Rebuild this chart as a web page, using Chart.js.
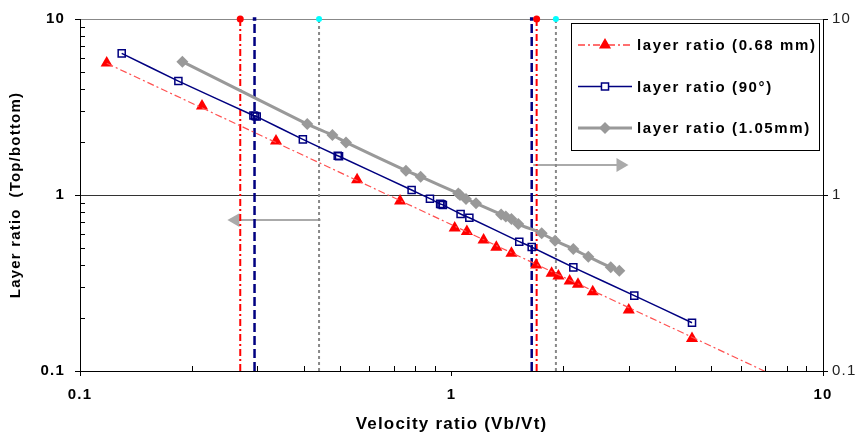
<!DOCTYPE html>
<html>
<head>
<meta charset="utf-8">
<script src="https://cdn.jsdelivr.net/npm/chart.js@4/dist/chart.umd.min.js"></script>
<style>
  html, body { margin: 0; padding: 0; background: #fff; }
  #wrap { width: 859px; height: 436px; }
</style>
</head>
<body>
<div id="wrap"><canvas id="layerChart" width="859" height="436"></canvas></div>
<script>
// layer ratio (0.68 mm)
const redX = [0.118, 0.213, 0.337, 0.557, 0.727, 1.02, 1.10, 1.22, 1.32, 1.45, 1.69, 1.86, 1.94, 2.08, 2.19, 2.40, 3.00, 4.44];
const redY = [5.62, 3.20, 2.03, 1.22, 0.925, 0.65, 0.62, 0.555, 0.504, 0.466, 0.40, 0.359, 0.347, 0.325, 0.311, 0.282, 0.222, 0.153];
// power trend line of the red series
const trendX = [0.118, 10];
const trendY = [5.6, 0.0698];
// layer ratio (90°)
const blueX = [0.1295, 0.184, 0.293, 0.296, 0.299, 0.398, 0.494, 0.498, 0.781, 0.875, 0.932, 0.94, 0.948, 1.058, 1.117, 1.522, 1.644, 2.128, 3.105, 4.44];
const blueY = [6.38, 4.44, 2.83, 2.81, 2.79, 2.07, 1.67, 1.66, 1.068, 0.953, 0.89, 0.885, 0.878, 0.78, 0.743, 0.543, 0.506, 0.388, 0.268, 0.188];
// layer ratio (1.05mm)
const grayX = [0.1886, 0.409, 0.478, 0.52, 0.754, 0.826, 1.043, 1.054, 1.094, 1.164, 1.36, 1.40, 1.45, 1.513, 1.749, 1.90, 2.128, 2.335, 2.683, 2.83];
const grayY = [5.72, 2.53, 2.19, 1.99, 1.374, 1.27, 1.02, 1.0, 0.949, 0.897, 0.775, 0.755, 0.73, 0.684, 0.606, 0.55, 0.493, 0.446, 0.388, 0.371];
// vertical limits
const vRedX = [0.27, 1.695];
const vNavyX = [0.295, 1.644];
const vGrayX = [0.44, 1.91];
// arrows
const arrowRightX = [1.66, 2.85];
const arrowRightY = [1.48, 1.48];
const arrowLeftX = [0.444, 0.262];
const arrowLeftY = [0.72, 0.72];
// axis
const axisMin = 0.1;
const axisMax = 10;

const FONT = '"Liberation Sans", Arial, sans-serif';

const pts = (xs, ys) => xs.map((x, i) => ({ x: x, y: ys[i] }));
const vline = x => [{ x: x, y: axisMin }, { x: x, y: axisMax }];

const isMajor = v => { const l = Math.log10(v); return Math.abs(l - Math.round(l)) < 1e-6; };

const vertical = [];
vRedX.forEach(x => vertical.push({
    data: vline(x), borderColor: '#ff0000', borderWidth: 2, borderDash: [7, 3, 2, 3], clip: false,
    pointRadius: [0, 3.5], pointBackgroundColor: '#ff0000', pointBorderWidth: 0, pointStyle: 'circle'
}));
vNavyX.forEach(x => vertical.push({
    data: vline(x), borderColor: '#000080', borderWidth: 2.5, borderDash: [9, 4], clip: false,
    pointRadius: [0, 2.5], pointBackgroundColor: '#000080', pointBorderWidth: 0, pointStyle: 'rect'
}));
vGrayX.forEach(x => vertical.push({
    data: vline(x), borderColor: '#888888', borderWidth: 2, borderDash: [3, 3], clip: false,
    pointRadius: [0, 3], pointBackgroundColor: '#00ffff', pointBorderWidth: 0, pointStyle: 'circle'
}));

const legendItems = [
    { text: 'layer ratio (0.68 mm)', color: '#ff4040', width: 1.5, dash: [7, 3, 2, 3],
      point: { pointStyle: 'triangle', radius: 7, borderWidth: 0 }, fill: '#ff0000', stroke: '#ff0000' },
    { text: 'layer ratio (90°)', color: '#000080', width: 1.5, dash: [],
      point: { pointStyle: 'rect', radius: 5, borderWidth: 1.5 }, fill: '#ffffff', stroke: '#000080' },
    { text: 'layer ratio (1.05mm)', color: '#999999', width: 3, dash: [],
      point: { pointStyle: 'rectRot', radius: 6, borderWidth: 0 }, fill: '#999999', stroke: '#999999' }
];

// wider, letter-spaced text like the original
const spacing = {
    id: 'spacing',
    beforeDraw(chart) { chart.ctx.letterSpacing = '1.2px'; }
};

const boxLegend = {
    id: 'boxLegend',
    afterDraw(chart) {
        const ctx = chart.ctx;
        const x0 = 571, y0 = 23, w = 248, h = 127;
        ctx.save();
        ctx.fillStyle = '#ffffff';
        ctx.fillRect(x0, y0, w, h);
        ctx.strokeStyle = '#000000';
        ctx.lineWidth = 1;
        ctx.strokeRect(x0 + 0.5, y0 + 0.5, w, h);
        legendItems.forEach((it, i) => {
            const y = y0 + 22 + i * 41.5;
            ctx.strokeStyle = it.color;
            ctx.lineWidth = it.width;
            ctx.setLineDash(it.dash);
            ctx.beginPath();
            ctx.moveTo(578, y);
            ctx.lineTo(632, y);
            ctx.stroke();
            ctx.setLineDash([]);
            ctx.fillStyle = it.fill;
            ctx.strokeStyle = it.stroke;
            Chart.helpers.drawPoint(ctx, Object.assign({ rotation: 0 }, it.point), 605, y);
            ctx.fillStyle = '#000000';
            ctx.letterSpacing = '1.6px';
            ctx.font = 'bold 15px ' + FONT;
            ctx.textBaseline = 'middle';
            ctx.textAlign = 'left';
            ctx.fillText(it.text, 637, y + 1);
        });
        ctx.restore();
    }
};

const minorTicks = {
    id: 'minorTicks',
    afterDraw(chart) {
        const ctx = chart.ctx;
        const xs = chart.scales.x, ys = chart.scales.y;
        const a = chart.chartArea;
        ctx.save();
        ctx.strokeStyle = '#000000';
        ctx.lineWidth = 1;
        ctx.beginPath();
        [0.1, 1].forEach(d => {
            for (let k = 2; k <= 9; k++) {
                const v = k * d;
                const px = Math.round(xs.getPixelForValue(v)) + 0.5;
                ctx.moveTo(px, a.bottom);
                ctx.lineTo(px, a.bottom - 5);
                const py = Math.round(ys.getPixelForValue(v)) + 0.5;
                ctx.moveTo(a.left, py);
                ctx.lineTo(a.left + 5, py);
            }
        });
        ctx.stroke();
        ctx.restore();
    }
};

const ctxLayer = document.getElementById('layerChart').getContext('2d');
new Chart(ctxLayer, {
    type: 'line',
    data: {
        datasets: [
            {
                label: 'trend', data: pts(trendX, trendY),
                borderColor: '#ff5050', borderWidth: 1.2, borderDash: [7, 3, 2, 3], pointRadius: 0
            },
            {
                label: 'layer ratio (0.68 mm)', data: pts(redX, redY), showLine: false,
                pointStyle: 'triangle', pointRadius: 7, pointBackgroundColor: '#ff0000',
                pointBorderColor: '#ff0000', pointBorderWidth: 0
            },
            {
                label: 'layer ratio (90°)', data: pts(blueX, blueY),
                borderColor: '#000080', borderWidth: 1.5, tension: 0.15,
                pointStyle: 'rect', pointRadius: 5, pointBackgroundColor: 'rgba(255,255,255,0)',
                pointBorderColor: '#000080', pointBorderWidth: 1.5
            },
            {
                label: 'layer ratio (1.05mm)', data: pts(grayX, grayY),
                borderColor: '#999999', borderWidth: 3, tension: 0.15,
                pointStyle: 'rectRot', pointRadius: 6, pointBackgroundColor: '#999999',
                pointBorderColor: '#999999', pointBorderWidth: 0
            },
            ...vertical,
            {
                label: 'arrowR', data: pts(arrowRightX, arrowRightY),
                borderColor: '#aaaaaa', borderWidth: 2,
                pointRadius: [0, 8], pointStyle: 'triangle', pointRotation: 90,
                pointBackgroundColor: '#aaaaaa', pointBorderWidth: 0
            },
            {
                label: 'arrowL', data: pts(arrowLeftX, arrowLeftY),
                borderColor: '#aaaaaa', borderWidth: 2,
                pointRadius: [0, 8], pointStyle: 'triangle', pointRotation: -90,
                pointBackgroundColor: '#aaaaaa', pointBorderWidth: 0
            }
        ]
    },
    options: {
        responsive: false,
        animation: false,
        layout: { padding: { top: 19, left: 0, right: 0, bottom: 0 } },
        plugins: {
            legend: { display: false },
            tooltip: { enabled: false }
        },
        scales: {
            x: {
                type: 'logarithmic', min: axisMin, max: axisMax,
                afterFit(scale) { scale.height = 65; },
                border: { color: '#000000', width: 1 },
                grid: {
                    color: 'rgba(0,0,0,0)',
                    tickColor: c => isMajor(c.tick.value) ? '#000000' : 'rgba(0,0,0,0)',
                    tickLength: 5
                },
                ticks: {
                    autoSkip: false, maxRotation: 0, padding: 10, color: '#000000',
                    font: { family: FONT, size: 15, weight: 'bold' },
                    callback: v => isMajor(v) ? String(+v.toPrecision(3)) : ''
                },
                title: {
                    display: true, text: 'Velocity ratio (Vb/Vt)', color: '#000000',
                    font: { family: FONT, size: 17, weight: 'bold' },
                    padding: { top: 0, bottom: 1 }
                }
            },
            y: {
                type: 'logarithmic', position: 'left', min: axisMin, max: axisMax,
                afterFit(scale) { scale.width = 80; },
                border: { color: '#000000', width: 1 },
                grid: {
                    color: c => c.tick.value === 1 ? '#333333' : (c.tick.value === 10 ? '#888888' : 'rgba(0,0,0,0)'),
                    tickColor: c => isMajor(c.tick.value) ? '#000000' : 'rgba(0,0,0,0)',
                    tickLength: 5
                },
                ticks: {
                    autoSkip: false, padding: 10, color: '#000000',
                    font: { family: FONT, size: 15, weight: 'bold' },
                    callback: v => isMajor(v) ? String(+v.toPrecision(3)) : ''
                },
                title: {
                    display: true, text: 'Layer ratio  (Top/bottom)', color: '#000000',
                    font: { family: FONT, size: 15, weight: 'bold' },
                    padding: { top: 7, bottom: 0 }
                }
            },
            y2: {
                type: 'logarithmic', position: 'right', min: axisMin, max: axisMax,
                afterFit(scale) { scale.width = 36; },
                border: { color: '#000000', width: 1 },
                grid: {
                    drawOnChartArea: false,
                    tickColor: c => isMajor(c.tick.value) ? '#000000' : 'rgba(0,0,0,0)',
                    tickLength: 5
                },
                ticks: {
                    autoSkip: false, padding: 4, color: '#222222',
                    font: { family: FONT, size: 15 },
                    callback: v => isMajor(v) ? String(+v.toPrecision(3)) : ''
                }
            }
        }
    },
    plugins: [spacing, minorTicks, boxLegend]
});
</script>
</body>
</html>
